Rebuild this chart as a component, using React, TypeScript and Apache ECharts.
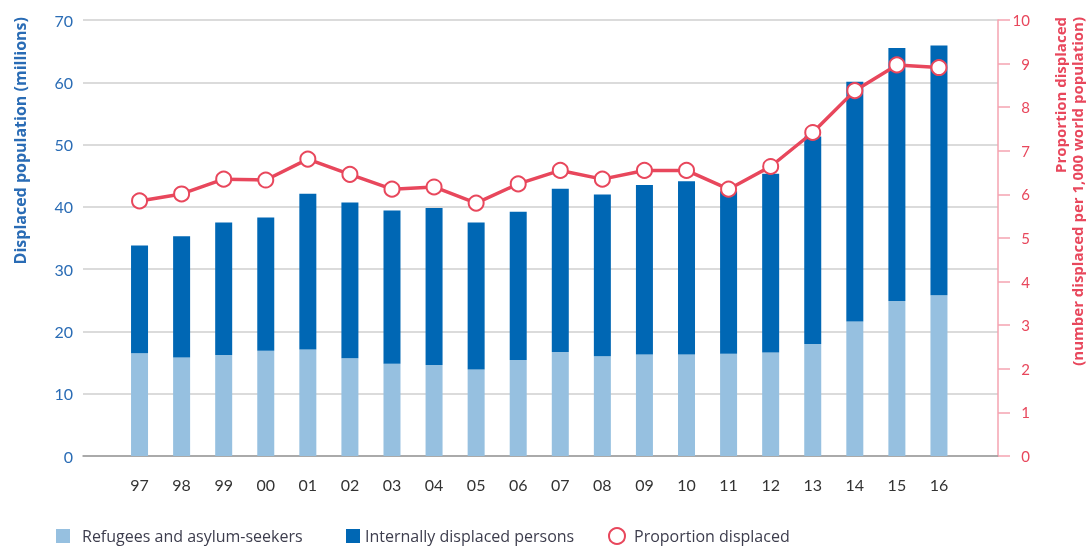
import React, { useEffect, useRef } from "react";
import * as echarts from "echarts";

const years = ["97", "98", "99", "00", "01", "02", "03", "04", "05", "06", "07", "08", "09", "10", "11", "12", "13", "14", "15", "16"];
const refugees = [16.5, 15.8, 16.2, 16.9, 17.1, 15.7, 14.8, 14.6, 13.9, 15.4, 16.7, 16.0, 16.3, 16.3, 16.4, 16.6, 18.0, 21.6, 24.9, 25.8];
const idps = [17.3, 19.5, 21.3, 21.4, 25.0, 25.0, 24.6, 25.2, 23.6, 23.8, 26.2, 26.0, 27.2, 27.8, 26.1, 28.7, 33.3, 38.5, 40.6, 40.1];
const proportion = [5.85, 6.01, 6.35, 6.33, 6.81, 6.46, 6.12, 6.17, 5.8, 6.24, 6.55, 6.35, 6.55, 6.55, 6.12, 6.64, 7.42, 8.38, 8.97, 8.91];

const FONT = "Lato, 'Open Sans', sans-serif";
const WIDE = "'Open Sans', Lato, sans-serif";
const LIGHT = "#96c0e0";
const DARK = "#0067b4";
const RED = "#e8475c";
const PINK = "#f4a3b0";
const BLUE_TXT = "#2a6cb5";

export default function App() {
  const ref = useRef<HTMLDivElement>(null);
  useEffect(() => {
    if (!ref.current) return;
    const chart = echarts.init(ref.current, undefined, { renderer: "svg" });
    const legendText = { fontSize: 16, lineHeight: 16, color: "#3d3d4d", fontFamily: WIDE };
    chart.setOption({
      animation: false,
      textStyle: { fontFamily: FONT },
      grid: [
        { left: 83, right: 88, top: 20, bottom: 91 },
        { left: 118.5, right: 126, top: 20, bottom: 91 },
      ],
      xAxis: [
        {
          gridIndex: 0, type: "value", min: 0, max: 1,
          axisLine: { show: true, lineStyle: { color: "#9a9a9a", width: 1.5 } },
          axisTick: { show: false }, axisLabel: { show: false }, splitLine: { show: false },
        },
        {
          gridIndex: 1, type: "category", data: years,
          axisLine: { show: false }, axisTick: { show: false },
          axisLabel: { fontSize: 16, color: "#333", margin: 20, fontFamily: FONT },
        },
      ],
      yAxis: [
        {
          gridIndex: 0, type: "value", min: 0, max: 70, interval: 10,
          axisLine: { show: false }, axisTick: { show: false },
          axisLabel: { fontSize: 16, color: BLUE_TXT, margin: 10, fontFamily: FONT },
          splitLine: { lineStyle: { color: "#cfcfcf", width: 1.5 } },
        },
        {
          gridIndex: 0, type: "value", position: "right", min: 0, max: 10, interval: 1,
          axisLine: { show: true, lineStyle: { color: PINK, width: 1.5 } },
          axisTick: { show: true, length: 12, lineStyle: { color: PINK, width: 1.5 } },
          axisLabel: { fontSize: 15, color: RED, margin: 32, align: "right", fontFamily: FONT },
          splitLine: { show: false },
        },
        { gridIndex: 1, type: "value", min: 0, max: 70, show: false },
        { gridIndex: 1, type: "value", min: 0, max: 10, show: false },
      ],
      legend: [
        {
          left: 56, top: 528, itemWidth: 14, itemHeight: 14, padding: 0,
          textStyle: { ...legendText, padding: [0, 0, 0, 7] },
          data: [{ name: "Refugees and asylum-seekers", icon: "rect" }],
        },
        {
          left: 346, top: 528, itemWidth: 14, itemHeight: 14, padding: 0,
          textStyle: { ...legendText },
          data: [{ name: "Internally displaced persons", icon: "rect" }],
        },
        {
          left: 608, top: 527, itemWidth: 16, itemHeight: 16, padding: 0,
          textStyle: { ...legendText, padding: [0, 0, 0, 4] },
          data: [{ name: "Proportion displaced", icon: "circle", itemStyle: { color: "#fff", borderColor: RED, borderWidth: 2 } }],
        },
      ],
      series: [
        {
          name: "Refugees and asylum-seekers", type: "bar", xAxisIndex: 1, yAxisIndex: 2,
          stack: "total", barWidth: 17, itemStyle: { color: LIGHT }, data: refugees,
        },
        {
          name: "Internally displaced persons", type: "bar", xAxisIndex: 1, yAxisIndex: 2,
          stack: "total", barWidth: 17, itemStyle: { color: DARK }, data: idps,
        },
        {
          name: "Proportion displaced", type: "line", xAxisIndex: 1, yAxisIndex: 3,
          symbol: "circle", symbolSize: 15, z: 5,
          lineStyle: { color: RED, width: 3.5 },
          itemStyle: { color: "#fff", borderColor: RED, borderWidth: 2 },
          data: proportion,
        },
      ],
      graphic: [
        {
          type: "text", x: 20, y: 17, rotation: Math.PI / 2,
          style: { text: "Displaced population (millions)", fill: BLUE_TXT, font: `bold 16px ${WIDE}`, textAlign: "right", textVerticalAlign: "middle" },
        },
        {
          type: "text", x: 1060, y: 17, rotation: Math.PI / 2,
          style: { text: "Proportion displaced", fill: RED, font: `bold 15px ${WIDE}`, textAlign: "right", textVerticalAlign: "middle" },
        },
        {
          type: "text", x: 1077, y: 17, rotation: Math.PI / 2,
          style: { text: "(number displaced per 1,000 world population)", fill: RED, font: `bold 15px ${WIDE}`, textAlign: "right", textVerticalAlign: "middle" },
        },
      ],
    });
    return () => chart.dispose();
  }, []);
  return <div ref={ref} style={{ position: "fixed", left: 0, top: 0, width: 1086, height: 547 }} />;
}
